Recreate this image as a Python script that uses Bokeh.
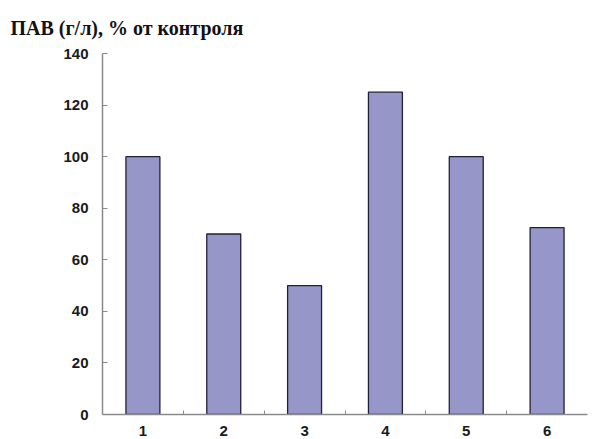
from bokeh.plotting import figure
from bokeh.models import FixedTicker, Range1d, ColumnDataSource
from bokeh.embed import file_html
from bokeh.resources import INLINE

categories = [1, 2, 3, 4, 5, 6]
values = [100, 70, 50, 125, 100, 72.5]
y_ticks = [0, 20, 40, 60, 80, 100, 120, 140]
title_text = "ПАВ (г/л), % от контроля"

src = ColumnDataSource(data=dict(x=categories, top=values))

p = figure(width=589, height=439, output_backend="svg", toolbar_location=None,
           x_range=Range1d(0.5, 6.5), y_range=Range1d(0, 140),
           min_border_left=102, min_border_right=2, min_border_top=53, min_border_bottom=25)
p.title.text = title_text
p.title.text_font = "Liberation Serif"
p.title.text_font_size = "20px"
p.title.text_font_style = "bold"
p.title.text_color = "#111111"
p.title.align = "left"
p.title.offset = -92
p.title.standoff = 29

p.vbar(x="x", top="top", width=0.42, bottom=0, source=src,
       fill_color="#9696C8", line_color="#20203A", line_width=1.3)

p.outline_line_color = None
p.xgrid.grid_line_color = None
p.ygrid.grid_line_color = None
p.background_fill_color = "white"
p.border_fill_color = "white"

p.xaxis.ticker = FixedTicker(ticks=categories, minor_ticks=[1.5, 2.5, 3.5, 4.5, 5.5])
p.xaxis.major_tick_in = 0
p.xaxis.major_tick_out = 0
p.xaxis.minor_tick_in = 4
p.xaxis.minor_tick_out = 0
p.yaxis.ticker = FixedTicker(ticks=y_ticks)
p.yaxis.major_tick_in = 5
p.yaxis.major_tick_out = 0
p.yaxis.minor_tick_line_color = None

for ax in (p.xaxis, p.yaxis):
    ax.axis_line_color = "#8a8a8a"
    ax.axis_line_width = 1.5
    ax.major_tick_line_color = "#8a8a8a"
    ax.minor_tick_line_color = "#8a8a8a"
    ax.major_label_text_font = "Liberation Sans"
    ax.major_label_text_font_style = "bold"
    ax.major_label_text_font_size = "15px"
    ax.major_label_text_color = "#1a1a1a"
p.yaxis.minor_tick_line_color = None
p.xaxis.major_label_standoff = 11
p.yaxis.major_label_standoff = 14

open("out.html", "w").write(file_html(p, INLINE))
